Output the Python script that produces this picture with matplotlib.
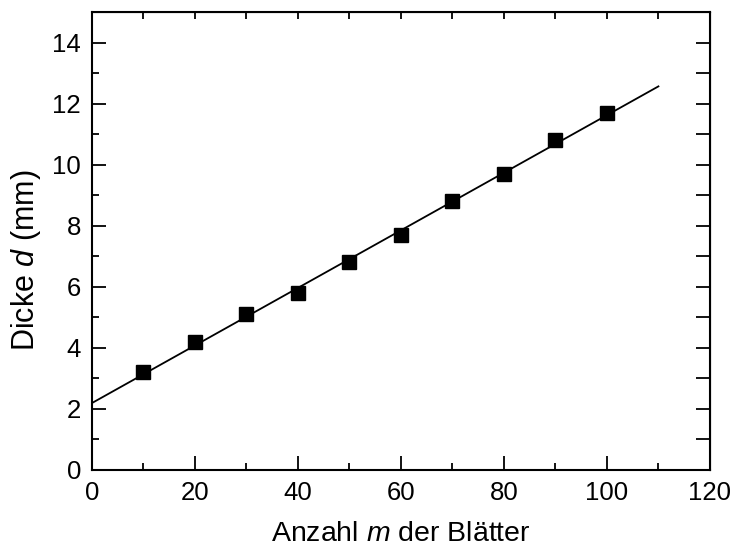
import numpy as np
import matplotlib
matplotlib.use("Agg")
import matplotlib.pyplot as plt
from matplotlib.ticker import MultipleLocator

plt.rcParams['font.family'] = ['Liberation Sans', 'DejaVu Sans']
plt.rcParams['mathtext.fontset'] = 'custom'
plt.rcParams['mathtext.it'] = 'Liberation Sans:italic'
plt.rcParams['mathtext.rm'] = 'Liberation Sans'

blaetter = [10, 20, 30, 40, 50, 60, 70, 80, 90, 100]
dicke = [3.2, 4.2, 5.1, 5.8, 6.8, 7.7, 8.8, 9.7, 10.8, 11.7]

fig = plt.figure(figsize=(7.33, 5.5), dpi=100)
ax = fig.add_axes([0.1255, 0.1455, 0.843, 0.8325])

# linear fit
slope, intercept = np.polyfit(blaetter, dicke, 1)
xfit = np.array([0, 110])
ax.plot(xfit, slope * xfit + intercept, color='black', lw=1.3, zorder=2)
ax.plot(blaetter, dicke, 's', color='black', markersize=9.5, zorder=3)

ax.set_xlim(0, 120)
ax.set_ylim(0, 15)
ax.xaxis.set_major_locator(MultipleLocator(20))
ax.xaxis.set_minor_locator(MultipleLocator(10))
ax.yaxis.set_major_locator(MultipleLocator(2))
ax.yaxis.set_minor_locator(MultipleLocator(1))
ax.tick_params(which='major', direction='in', length=10, width=1.3, labelsize=18.5, pad=8)
ax.tick_params(which='minor', direction='in', length=5, width=1.3)
for s in ax.spines.values():
    s.set_linewidth(1.5)

top = ax.secondary_xaxis('top')
top.xaxis.set_major_locator(MultipleLocator(10))
top.tick_params(direction='in', length=5, width=1.3, labeltop=False)
right = ax.secondary_yaxis('right')
right.yaxis.set_major_locator(MultipleLocator(1))
right.tick_params(direction='in', length=10, width=1.3, labelright=False)

ax.set_xlabel('Anzahl $\\mathit{m}$ der Blätter', fontsize=20.5)
ax.set_ylabel('Dicke $\\mathit{d}$ (mm)', fontsize=22)
ax.xaxis.set_label_coords(0.5, -0.112)
ax.yaxis.set_label_coords(-0.08, 0.4585)

fig.savefig('out.png', dpi=100)
